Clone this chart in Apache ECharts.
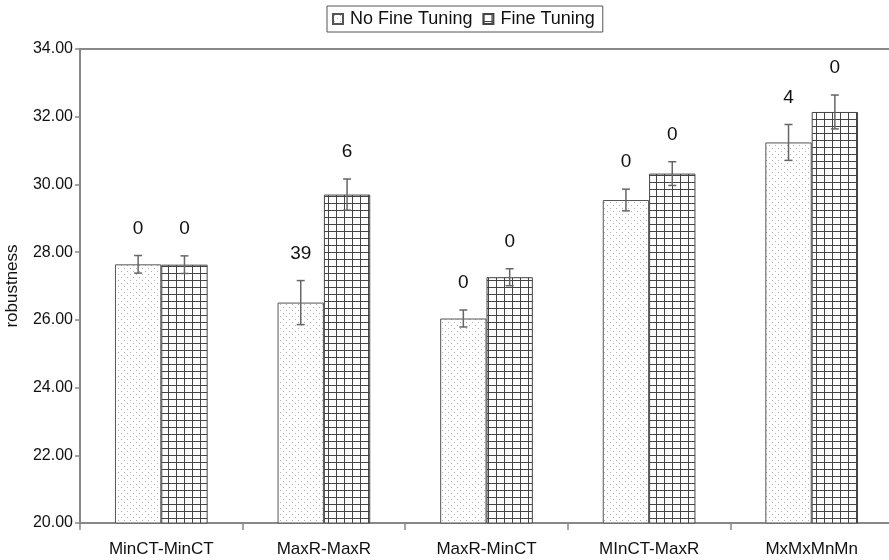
<!DOCTYPE html>
<html>
<head>
<meta charset="utf-8">
<script src="https://cdn.jsdelivr.net/npm/echarts@6/dist/echarts.min.js"></script>
<style>html,body{margin:0;padding:0;background:#fff}#c{width:889px;height:560px}</style>
</head>
<body>
<div id="c"></div>
<script>
const categories = ['MinCT-MinCT', 'MaxR-MaxR', 'MaxR-MinCT', 'MInCT-MaxR', 'MxMxMnMn'];
const noFineTuning = [27.64, 26.51, 26.04, 29.54, 31.24];
const fineTuning = [27.63, 29.70, 27.26, 30.32, 32.14];
const noFineTuningErr = [0.26, 0.65, 0.25, 0.32, 0.53];
const fineTuningErr = [0.26, 0.46, 0.25, 0.35, 0.50];
const noFineTuningLabels = ['0', '39', '0', '0', '4'];
const fineTuningLabels = ['0', '6', '0', '0', '0'];
const seriesNames = ['No Fine Tuning', 'Fine Tuning'];

function dotPattern() {
  const c = document.createElement('canvas');
  c.width = 6; c.height = 6;
  const g = c.getContext('2d');
  g.fillStyle = '#fff'; g.fillRect(0, 0, 6, 6);
  g.fillStyle = '#b0b0b0';
  g.fillRect(1, 1, 1, 1);
  g.fillRect(4, 4, 1, 1);
  return c;
}
function gridPattern() {
  const c = document.createElement('canvas');
  c.width = 8; c.height = 7;
  const g = c.getContext('2d');
  g.fillStyle = '#fff'; g.fillRect(0, 0, 8, 7);
  g.fillStyle = '#444';
  g.fillRect(0, 0, 1, 7);
  g.fillRect(0, 0, 8, 1);
  return c;
}

const GAP = 0.43;
const font = '"Liberation Sans", Arial, sans-serif';
function errRender(side, labels) {
  return function (params, api) {
    const i = api.value(0), v = api.value(1), e = api.value(2);
    const catW = api.size([1, 0])[0];
    const barW = catW * (1 - GAP) / 2;
    const c = api.coord([i, v]);
    const x = c[0] + side * barW / 2;
    const yh = api.coord([i, v + e])[1];
    const yl = api.coord([i, v - e])[1];
    const st = { stroke: '#666', lineWidth: 1.5 };
    return {
      type: 'group',
      children: [
        { type: 'line', shape: { x1: x, y1: yh, x2: x, y2: yl }, style: st },
        { type: 'line', shape: { x1: x - 4, y1: yh, x2: x + 4, y2: yh }, style: st },
        { type: 'line', shape: { x1: x - 4, y1: yl, x2: x + 4, y2: yl }, style: st },
        { type: 'text', x: x, y: yh - 27, style: { text: labels[i], fill: '#111', font: '19px ' + font, align: 'center', verticalAlign: 'middle' } }
      ]
    };
  };
}

const chart = echarts.init(document.getElementById('c'), null, { renderer: 'canvas' });
chart.setOption({
  animation: false,
  textStyle: { fontFamily: font },
  legend: {
    top: 6, left: 327,
    data: seriesNames.map(n => ({ name: n, icon: 'rect' })),
    itemWidth: 10, itemHeight: 10, itemGap: 10,
    padding: [4, 8, 4, 5],
    borderColor: '#555', borderWidth: 1,
    textStyle: { fontSize: 18, color: '#111', fontFamily: font, padding: [0, 0, 0, 2] }
  },
  grid: { left: 80, top: 49, width: 813, bottom: 37, containLabel: false, outerBoundsMode: 'none' },
  xAxis: [{
    type: 'category', data: categories, position: 'bottom',
    axisLine: { lineStyle: { color: '#888', width: 2 } },
    axisTick: { show: true, length: 7, lineStyle: { color: '#888', width: 1.5 } },
    axisLabel: { fontSize: 17, color: '#111', margin: 18, fontFamily: font },
    splitLine: { show: false }
  }, {
    type: 'category', data: categories, position: 'top',
    axisLine: { show: true, lineStyle: { color: '#888', width: 2 } },
    axisTick: { show: false }, axisLabel: { show: false }, splitLine: { show: false }
  }],
  yAxis: {
    type: 'value', min: 20, max: 34, interval: 2,
    name: 'robustness', nameLocation: 'middle', nameGap: 59, nameRotate: 90,
    nameTextStyle: { fontSize: 17, color: '#111', fontFamily: font },
    axisLine: { show: true, lineStyle: { color: '#888', width: 2 } },
    axisTick: { show: true, length: 5, lineStyle: { color: '#888', width: 1.5 } },
    axisLabel: { fontSize: 16, color: '#111', margin: 7, fontFamily: font, formatter: v => v.toFixed(2) },
    splitLine: { show: false }
  },
  series: [
    {
      name: seriesNames[0], type: 'bar', data: noFineTuning, barGap: '0%', barCategoryGap: (GAP * 100) + '%',
      itemStyle: { color: { image: dotPattern(), repeat: 'repeat' }, borderColor: '#555', borderWidth: 1 }
    },
    {
      name: seriesNames[1], type: 'bar', data: fineTuning, barGap: '0%', barCategoryGap: (GAP * 100) + '%',
      itemStyle: { color: { image: gridPattern(), repeat: 'repeat' }, borderColor: '#444', borderWidth: 1 }
    },
    {
      type: 'custom', renderItem: errRender(-1, noFineTuningLabels), clip: false, z: 5,
      data: noFineTuning.map((v, i) => [i, v, noFineTuningErr[i]]), encode: { x: 0, y: 1 }, silent: true
    },
    {
      type: 'custom', renderItem: errRender(1, fineTuningLabels), clip: false, z: 5,
      data: fineTuning.map((v, i) => [i, v, fineTuningErr[i]]), encode: { x: 0, y: 1 }, silent: true
    }
  ]
});
</script>
</body>
</html>
